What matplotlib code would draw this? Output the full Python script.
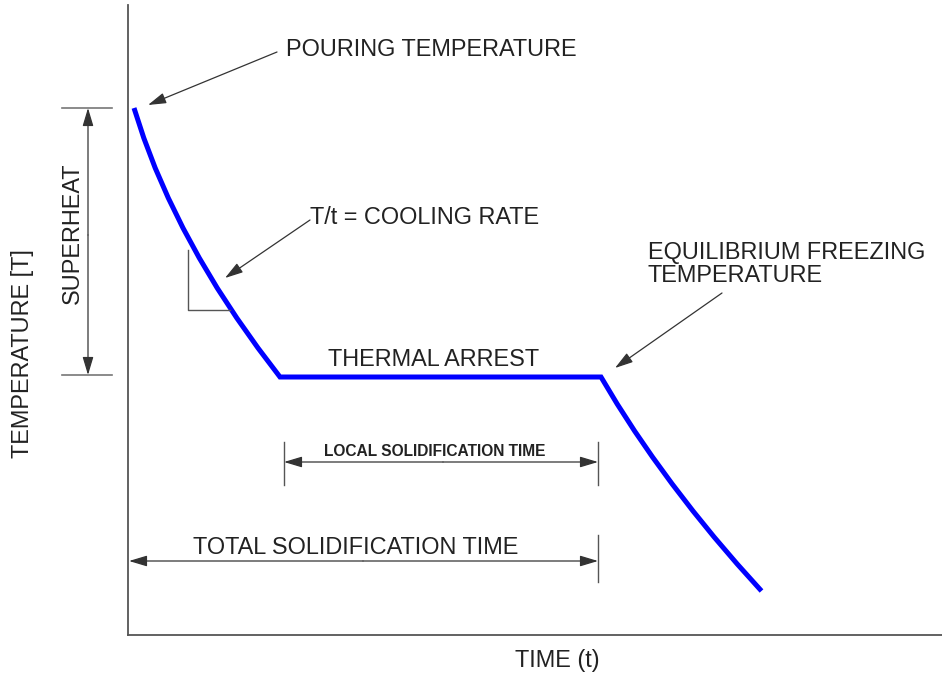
import matplotlib
matplotlib.use("Agg")
import matplotlib.pyplot as plt

plt.rcParams['font.family'] = ['Liberation Sans', 'DejaVu Sans']

# cooling curve (arbitrary units: time, temperature)
time = [6, 15.8, 27.2, 40.3, 55, 71.3, 89.2, 108.8, 130, 152,
        473, 489.2, 506.6, 524.5, 544.2, 565, 586.1, 609.2, 633.5]
temp = [527, 497, 467, 437, 407, 377, 347, 317, 287, 258,
        258, 231, 204, 178, 151, 124, 98, 71, 44]

pour_T = 527      # pouring temperature
freeze_T = 258    # equilibrium freezing temperature
t_start = 152     # start of thermal arrest
t_end = 470       # end of solidification

fig = plt.figure(figsize=(9.42, 6.78), dpi=100)
ax = fig.add_axes([128 / 942, 43 / 678, 814 / 942, 630 / 678])
ax.set_xlim(0, 814)
ax.set_ylim(0, 630)
ax.set_xticks([])
ax.set_yticks([])
for s in ['top', 'right']:
    ax.spines[s].set_visible(False)
for s in ['left', 'bottom']:
    ax.spines[s].set_color('#555555')
    ax.spines[s].set_linewidth(1.3)

ax.plot(time, temp, color='#0000ff', lw=3.6, solid_joinstyle='miter',
        solid_capstyle='butt', clip_on=False)

txt = '#222222'
lc = '#333333'
fs = 16.9

def arrow(x0, y0, x1, y1, style='-|>'):
    ax.annotate('', xy=(x1, y1), xytext=(x0, y0), annotation_clip=False,
                arrowprops=dict(arrowstyle=style + ',head_length=1.1,head_width=0.33',
                                color=lc, lw=0.9, shrinkA=0, shrinkB=0))

# pouring temperature
ax.text(158, 585, 'POURING TEMPERATURE', fontsize=fs, color=txt, va='center', ha='left')
arrow(149, 583, 20, 530)

# cooling rate
ax.text(182, 418, 'T/t = COOLING RATE', fontsize=fs, color=txt, va='center', ha='left')
arrow(182, 415, 97, 357)
ax.plot([60, 60, 102], [385, 325, 325], color='#555555', lw=1.0)

# equilibrium freezing temperature
ax.text(520, 382, 'EQUILIBRIUM FREEZING', fontsize=fs, color=txt, va='center', ha='left')
ax.text(520, 360, 'TEMPERATURE', fontsize=fs, color=txt, va='center', ha='left')
arrow(594, 342, 487, 267)

# thermal arrest
ax.text(306, 275, 'THERMAL ARREST', fontsize=fs, color=txt, va='center', ha='center')

# superheat dimension
for yv in [pour_T, freeze_T + 2]:
    ax.plot([-66, -16], [yv, yv], color='#777777', lw=1.2, clip_on=False)
arrow(-40, 400, -40, pour_T)
arrow(-40, 400, -40, freeze_T + 2)
ax.text(-56, 402, 'SUPERHEAT', fontsize=fs, color=txt, rotation=90,
        va='center', ha='center')

# local solidification time
for xv in [t_start + 4, t_end]:
    ax.plot([xv, xv], [150, 193], color='#555555', lw=1.0)
arrow(315, 173, t_start + 4, 173)
arrow(315, 173, t_end, 173)
ax.text(307, 184, 'LOCAL SOLIDIFICATION TIME', fontsize=11.2, fontweight='bold',
        color=txt, va='center', ha='center')

# total solidification time
ax.plot([t_end, t_end], [53, 100], color='#555555', lw=1.0)
arrow(235, 74, 1, 74)
arrow(235, 74, t_end, 74)
ax.text(228, 88, 'TOTAL SOLIDIFICATION TIME', fontsize=fs, color=txt,
        va='center', ha='center')

# axis labels
ax.text(429, -25, 'TIME (t)', fontsize=fs, color=txt, va='center', ha='center')
ax.text(-105, 281, 'TEMPERATURE [T]', fontsize=fs, color=txt, rotation=90,
        va='center', ha='center')

fig.savefig('out.png', dpi=100)
